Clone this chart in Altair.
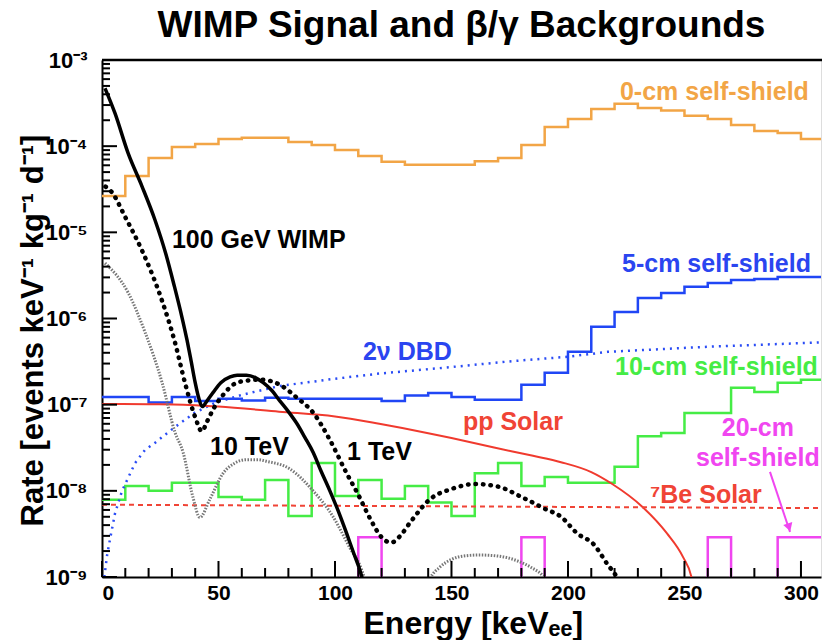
import altair as alt
import pandas as pd

FONT = "Liberation Sans"

# ---------------- data ----------------
# histogram bins: lower edges in keV (10 keV wide), last bin ends at 310
bin_lo = [0, 10, 20, 30, 40, 50, 60, 70, 80, 90, 100, 110, 120, 130, 140, 150,
          160, 170, 180, 190, 200, 210, 220, 230, 240, 250, 260, 270, 280, 290, 300]
bin_end = 310

shield0 = [2.64e-5, 4.5e-5, 7.3e-5, 9.8e-5, 1.06e-4, 1.21e-4, 1.25e-4, 1.25e-4, 1.12e-4, 1.03e-4,
           9.0e-5, 7.7e-5, 6.6e-5, 6.1e-5, 6.1e-5, 6.1e-5, 6.7e-5, 7.3e-5, 1.03e-4, 1.67e-4,
           2.07e-4, 2.7e-4, 3.1e-4, 2.77e-4, 2.6e-4, 2.25e-4, 2.07e-4, 1.76e-4, 1.5e-4, 1.42e-4, 1.21e-4]
shield5 = [1.23e-7, 1.23e-7, 1.06e-7, 1.23e-7, 1.1e-7, 1.17e-7, 1.12e-7, 1.2e-7, 1.17e-7, 1.17e-7,
           1.17e-7, 1.17e-7, 1.1e-7, 1.28e-7, 1.37e-7, 1.23e-7, 1.14e-7, 1.14e-7, 1.7e-7, 2.34e-7,
           4.1e-7, 8.0e-7, 1.19e-6, 1.73e-6, 1.98e-6, 2.33e-6, 2.59e-6, 2.8e-6, 2.88e-6, 3.04e-6, 3.04e-6]
shield10 = [7.9e-9, 1.14e-8, 1.0e-8, 1.24e-8, 1.24e-8, 8.5e-9, 7.9e-9, 1.34e-8, 5.1e-9, 2.1e-8,
            8.7e-9, 1.34e-8, 8.1e-9, 1.14e-8, 7.3e-9, 5.1e-9, 1.6e-8, 2.1e-8, 1.14e-8, 1.45e-8,
            1.24e-8, 1.24e-8, 1.9e-8, 4.3e-8, 4.7e-8, 8.0e-8, 8.0e-8, 1.57e-7, 1.4e-7, 1.8e-7, 1.95e-7]
shield20 = [0, 0, 0, 0, 0, 0, 0, 0, 0, 0,
            0, 2.9e-9, 0, 0, 0, 0, 0, 0, 2.9e-9, 0,
            0, 0, 0, 0, 0, 0, 2.9e-9, 0, 0, 2.9e-9, 2.9e-9]

wimp100_x = [1.3, 5.6, 11.2, 17.2, 22.7, 27.5, 31.0, 34.3, 36.5, 38.0, 40.0, 41.5, 43.0, 45.0, 47.8,
             51.0, 55.0, 58.0, 62.0, 66.0, 69.2, 73.0, 76.4, 80.0, 83.7, 87.0, 90.6, 94.0, 97.8,
             101.0, 105.0, 108.0, 110.7, 112.5]
wimp100_y = [4.7e-4, 2.4e-4, 8.3e-5, 3.4e-5, 1.4e-5, 5.5e-6, 2.4e-6, 1.04e-6, 5.6e-7, 3.5e-7, 1.8e-7,
             1.2e-7, 9.5e-8, 1.1e-7, 1.4e-7, 1.8e-7, 2.1e-7, 2.2e-7, 2.2e-7, 2.05e-7, 1.8e-7, 1.45e-7,
             1.1e-7, 8.3e-8, 6.0e-8, 4.2e-8, 2.8e-8, 1.7e-8, 1.0e-8, 6.2e-9, 3.2e-9, 1.9e-9, 1.2e-9, 8e-10]

wimp1t_x = [1.5, 4.1, 10.0, 17.6, 25.8, 31.3, 35.6, 39.9, 42.9, 45.0, 48.5, 52.0, 57.0, 62.0, 68.0,
            76.4, 83.7, 90.6, 97.8, 105.0, 110.0, 115.0, 120.0, 124.0, 128.0, 132.0, 140.8, 150.0,
            160.0, 170.0, 180.0, 190.0, 197.0, 204.0, 211.0, 217.0, 221.0, 223.0]
wimp1t_y = [3.4e-5, 2.95e-5, 1.5e-5, 5.8e-6, 1.6e-6, 5.3e-7, 1.8e-7, 7.3e-8, 4.9e-8, 6.3e-8, 9.6e-8,
            1.3e-7, 1.75e-7, 1.9e-7, 1.95e-7, 1.7e-7, 1.2e-7, 8.1e-8, 3.9e-8, 1.6e-8, 9e-9, 4.8e-9,
            2.9e-9, 2.5e-9, 3.0e-9, 4.2e-9, 8.0e-9, 1.05e-8, 1.2e-8, 1.12e-8, 8.5e-9, 6.2e-9, 5.0e-9,
            3.2e-9, 2.4e-9, 1.4e-9, 1.0e-9, 8e-10]

wimp10t_x = [1.3, 11.2, 18.5, 25.8, 31.3, 34.8, 39.0, 42.0, 46.3, 52.0, 57.0, 62.0, 67.0, 70.7, 80.6,
             90.6, 99.0, 106.3, 111.5, 113.0, 127.0, 140.8, 145.0, 150.0, 155.0, 162.0, 170.0, 178.0,
             184.0, 189.0, 191.0]
wimp10t_y = [4.4e-6, 2.0e-6, 6.9e-7, 1.8e-7, 4.8e-8, 2.8e-8, 8.5e-9, 4.9e-9, 8e-9, 1.6e-8, 2.1e-8,
             2.3e-8, 2.3e-8, 2.2e-8, 1.8e-8, 1.0e-8, 5.1e-9, 2.2e-9, 1.2e-9, 9e-10, 1e-11, 9.5e-10,
             1.3e-9, 1.6e-9, 1.75e-9, 1.8e-9, 1.75e-9, 1.55e-9, 1.3e-9, 1.05e-9, 9e-10]

pp_x = [0, 20, 35, 50, 76, 100, 119, 139.5, 150, 167.8, 185, 197, 210, 219, 232, 242.5, 249.4, 253, 255]
pp_y = [1.02e-7, 1.01e-7, 1.0e-7, 9.5e-8, 8.3e-8, 7.3e-8, 6.0e-8, 4.7e-8, 4.1e-8, 3.2e-8, 2.55e-8,
        2.15e-8, 1.65e-8, 1.2e-8, 6.5e-9, 3.2e-9, 1.7e-9, 1.0e-9, 5e-10]

be7_x = [0, 150, 310]
be7_y = [6.9e-9, 6.6e-9, 6.3e-9]

dbd_x = [1.0, 2.2, 3.4, 5.6, 8.6, 14.2, 18.5, 22.7, 31.3, 39.9, 48.5, 60, 76.4, 100, 119.3, 148, 176,
         200, 217, 260, 310]
dbd_y = [1e-9, 1.8e-9, 2.7e-9, 5.5e-9, 1.0e-8, 2.1e-8, 3.0e-8, 3.6e-8, 5.5e-8, 8.1e-8, 1.05e-7, 1.3e-7,
         1.65e-7, 2.0e-7, 2.3e-7, 2.7e-7, 3.2e-7, 3.6e-7, 4.1e-7, 4.7e-7, 5.3e-7]

# annotations
label_text = ["0-cm self-shield", "100 GeV WIMP", "5-cm self-shield", "2\u03bd DBD",
              "10-cm self-shield", "pp Solar", "1 TeV", "10 TeV", "\u2077Be Solar"]
label_x = [222.3, 30.0, 223.2, 112.0, 220.2, 154.9, 105.2, 46.4, 235.2]
label_y = [4.25e-4, 8.2e-6, 4.3e-6, 4.08e-7, 2.74e-7, 6.3e-8, 2.83e-8, 3.23e-8, 8.95e-9]
label_color = ["#f2a546", "black", "#2a45f0", "#2a45f0", "#45ec45", "#f04436", "black", "black", "#f04436"]

mag_text = ["20-cm", "self-shield"]
mag_x = [281.5, 281.5]
mag_y = [5.36e-8, 2.4e-8]

arrow_x = [286.7, 295.3]
arrow_y = [1.66e-8, 3.33e-9]
arrowhead_x = [294.7]
arrowhead_y = [3.9e-9]

y_major = [1e-9, 1e-8, 1e-7, 1e-6, 1e-5, 1e-4, 1e-3]
y_minor = [k * 10.0 ** e for e in range(-9, -3) for k in range(2, 10)]
x_major = [0, 50, 100, 150, 200, 250, 300]
x_minor = [10, 20, 30, 40, 60, 70, 80, 90, 110, 120, 130, 140, 160, 170, 180, 190,
           210, 220, 230, 240, 260, 270, 280, 290]

# ---------------- chart ----------------
W, H = 719, 517

sup = {-3: "\u207b\u00b3", -4: "\u207b\u2074", -5: "\u207b\u2075", -6: "\u207b\u2076",
       -7: "\u207b\u2077", -8: "\u207b\u2078", -9: "\u207b\u2079"}
label_expr = " : ".join(f"datum.value > {0.5 * 10.0 ** e:.1e} ? '10{sup[e]}'" for e in range(-3, -10, -1)) + " : ''"

xscale = alt.Scale(domain=[0, 308.6], nice=False, zero=False)
yscale = alt.Scale(type="log", domain=[1e-9, 1e-3], nice=False)

xaxis = alt.Axis(values=x_major, title="Energy [keV\u2091\u2091]", ticks=False, tickSize=0, grid=False,
                 labelFont=FONT, labelFontSize=21, labelFontWeight="bold", labelColor="black",
                 labelPadding=5, domainColor="black", domainWidth=2,
                 titleFont=FONT, titleFontSize=32, titleFontWeight="bold", titleColor="black",
                 titleX=261, titleY=56, titleAlign="left", titleBaseline="alphabetic")
yaxis = alt.Axis(values=y_major, labelExpr=label_expr, title="Rate [events keV\u207b\u00b9 kg\u207b\u00b9 d\u207b\u00b9]",
                 ticks=False, tickSize=0, grid=False,
                 labelFont=FONT, labelFontSize=22, labelFontWeight="bold", labelColor="black",
                 labelPadding=15, labelBaseline="middle", domainColor="black", domainWidth=2,
                 titleFont=FONT, titleFontSize=31, titleFontWeight="bold", titleColor="black",
                 titleAngle=270, titleX=-60, titleY=270, titleAlign="center", titleBaseline="alphabetic")

X = alt.X("x:Q", scale=xscale, axis=xaxis)
Y = alt.Y("y:Q", scale=yscale, axis=yaxis)


def hist_df(vals):
    xs = bin_lo + [bin_end]
    ys = vals + [vals[-1]]
    return pd.DataFrame({"x": xs, "y": [v if v > 0 else 1e-12 for v in ys]})


def hist(vals, color):
    return alt.Chart(hist_df(vals)).mark_line(interpolate="step-after", color=color, strokeWidth=2.5,
                                              clip=True).encode(x=X, y=Y)


def curve(xs, ys, **kw):
    return alt.Chart(pd.DataFrame({"x": xs, "y": ys})).mark_line(clip=True, **kw).encode(x=X, y=Y)


layers = [
    hist(shield0, "#f2a546"),
    hist(shield5, "#2046f5"),
    hist(shield10, "#45ec45"),
    hist(shield20, "#f046f0"),
    curve(dbd_x, dbd_y, color="#2a4cf5", strokeWidth=2.5, strokeDash=[2, 5]),
    curve(pp_x, pp_y, color="#f03a2e", strokeWidth=2, interpolate="monotone"),
    curve(be7_x, be7_y, color="#f04436", strokeWidth=2, strokeDash=[5, 4]),
    curve(wimp10t_x, wimp10t_y, color="#777777", strokeWidth=3, strokeDash=[1.5, 1.5], interpolate="monotone"),
    curve(wimp1t_x, wimp1t_y, color="black", strokeWidth=4.5, strokeDash=[0.5, 7], strokeCap="round",
          interpolate="monotone"),
    curve(wimp100_x, wimp100_y, color="black", strokeWidth=3.5, interpolate="monotone"),
    curve(arrow_x, arrow_y, color="#f046f0", strokeWidth=2),
    alt.Chart(pd.DataFrame({"x": arrowhead_x, "y": arrowhead_y})).mark_point(
        shape="triangle", filled=True, size=90, angle=162, color="#f046f0", opacity=1).encode(x=X, y=Y),
    alt.Chart(pd.DataFrame({"x": label_x, "y": label_y, "t": label_text, "c": label_color})).mark_text(
        align="left", baseline="middle", font=FONT, fontSize=25, fontWeight="bold").encode(
        x=X, y=Y, text="t:N", color=alt.Color("c:N", scale=None)),
    alt.Chart(pd.DataFrame({"x": mag_x, "y": mag_y, "t": mag_text})).mark_text(
        align="center", baseline="middle", font=FONT, fontSize=25, fontWeight="bold", color="#f046f0").encode(
        x=X, y=Y, text="t:N"),
    # inward ticks
    alt.Chart(pd.DataFrame({"y": y_major})).mark_rule(color="black", strokeWidth=2).encode(
        y=Y, x=alt.value(0), x2=alt.value(15)),
    alt.Chart(pd.DataFrame({"y": y_minor})).mark_rule(color="black", strokeWidth=2).encode(
        y=Y, x=alt.value(0), x2=alt.value(8)),
    alt.Chart(pd.DataFrame({"x": x_major})).mark_rule(color="black", strokeWidth=2).encode(
        x=X, y=alt.value(H), y2=alt.value(H - 16)),
    alt.Chart(pd.DataFrame({"x": x_minor})).mark_rule(color="black", strokeWidth=2).encode(
        x=X, y=alt.value(H), y2=alt.value(H - 9)),
    # top frame line
    alt.Chart(pd.DataFrame({"x": [0]})).mark_rule(color="black", strokeWidth=2.5).encode(
        y=alt.value(0), x=alt.value(0), x2=alt.value(W + 1)),
]

chart = alt.layer(*layers).properties(
    width=W, height=H,
    padding={"left": 102, "top": 60, "right": 1, "bottom": 63},
    autosize=alt.AutoSizeParams(type="none"),
    title=alt.TitleParams(text="WIMP Signal and \u03b2/\u03b3 Backgrounds", font=FONT, fontSize=37,
                          fontWeight="bold", color="black", anchor="middle", frame="group",
                          offset=20, dy=45, baseline="alphabetic"),
).configure_view(stroke=None).configure(background="white")

chart.save("out.html", embed_options={"renderer": "svg", "actions": False})
